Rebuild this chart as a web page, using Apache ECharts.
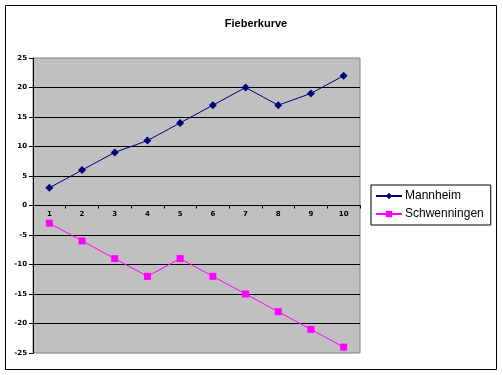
<!DOCTYPE html>
<html><head><meta charset="utf-8">
<script src="https://cdn.jsdelivr.net/npm/echarts@6/dist/echarts.min.js"></script>
<style>html,body{margin:0;padding:0;background:#fff}#c{width:503px;height:375px}</style>
</head><body><div id="c"></div>
<script>
var categories = ['1','2','3','4','5','6','7','8','9','10'];
var mannheim = [3, 6, 9, 11, 14, 17, 20, 17, 19, 22];
var schwenningen = [-3, -6, -9, -12, -9, -12, -15, -18, -21, -24];
var chart = echarts.init(document.getElementById('c'), null, {renderer:'canvas'});
chart.setOption({
  animation:false,
  backgroundColor:'#fff',
  title:{text:'Fieberkurve', left:251, top:13, textAlign:'center',
    textStyle:{fontFamily:'Arial, Liberation Sans', fontSize:11, fontWeight:'bold', color:'#000'}},
  graphic:[{type:'rect', shape:{x:5.5,y:5.5,width:491,height:364}, style:{fill:null, stroke:'#000', lineWidth:1}, silent:true, z:-1}],
  grid:{left:33, top:58, right:143, bottom:22, show:true, backgroundColor:'#C0C0C0', borderColor:'#808080', borderWidth:1},
  legend:{orient:'vertical', left:371, top:185, padding:[5,7,5,4], itemGap:6,
    borderColor:'#000', borderWidth:1, itemWidth:26, itemHeight:8,
    textStyle:{fontFamily:'Arial, Liberation Sans', fontSize:12, color:'#000', padding:[0,0,0,-2]},
    data:['Mannheim','Schwenningen']},
  xAxis:{type:'category', data:categories, boundaryGap:true, position:'bottom', offset:-147.5,
    axisLine:{onZero:false, lineStyle:{color:'#000', width:1}},
    axisTick:{show:true, alignWithLabel:false, length:3, lineStyle:{color:'#000'}},
    axisLabel:{fontFamily:'Verdana, DejaVu Sans', fontSize:7, fontWeight:'bold', color:'#000', margin:5}},
  yAxis:{type:'value', min:-25, max:25, interval:5,
    axisLine:{show:true, lineStyle:{color:'#000'}},
    axisTick:{show:true, length:4, lineStyle:{color:'#000'}},
    axisLabel:{fontFamily:'Verdana, DejaVu Sans', fontSize:7, fontWeight:'bold', color:'#000', margin:6},
    splitLine:{show:true, showMinLine:false, showMaxLine:false, lineStyle:{color:'#000', width:1}}},
  series:[
    {name:'Mannheim', type:'line', data:mannheim, symbol:'diamond', symbolSize:8,
      lineStyle:{color:'#000080', width:1}, itemStyle:{color:'#000080'}, color:'#000080'},
    {name:'Schwenningen', type:'line', data:schwenningen, symbol:'rect', symbolSize:7,
      lineStyle:{color:'#FF00FF', width:1}, itemStyle:{color:'#FF00FF'}, color:'#FF00FF'}
  ]
});
</script></body></html>
